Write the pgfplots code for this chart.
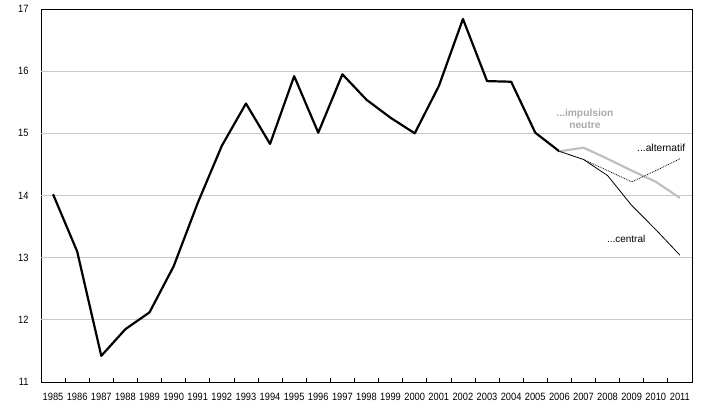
\documentclass[border=0pt]{standalone}
\usepackage{fontspec}
\setmainfont{Liberation Sans}
\newfontfamily\tickfont[FakeStretch=0.88]{Liberation Sans}
\usepackage{pgfplots}
\pgfplotsset{compat=1.18}
\definecolor{gridgray}{RGB}{200,200,200}
\definecolor{linegray}{RGB}{192,192,192}
\definecolor{textgray}{RGB}{170,170,170}
\begin{document}
\begin{tikzpicture}
\begin{axis}[
  name=ax,
  scale only axis,
  width=651bp, height=373bp,
  xmin=1984.5, xmax=2011.5,
  ymin=11, ymax=17,
  xtick={1985,...,2011},
  minor xtick={1985.5,1986.5,...,2010.5},
  ytick={11,...,17},
  extra y ticks={12,13,14,15,16},
  extra y tick labels={},
  extra y tick style={ymajorgrids=true, major grid style={gridgray, line width=0.8bp}, major tick length=0pt},
  major tick length=0pt,
  minor tick length=4bp,
  xtick pos=bottom,
  tick align=inside,
  tick style={black, line width=0.7bp},
  axis line style={line width=0.8bp},
  /pgf/number format/assume math mode=true,
  /pgf/number format/1000 sep={},
  tick label style={font=\tickfont\fontsize{10.6}{12}\selectfont},
  xticklabel style={yshift=-7.5bp},
  yticklabel style={xshift=-9bp},
  clip=false,
]
\addplot[black, line width=2.2bp, line join=round] coordinates {
(1985,14.02) (1986,13.10) (1987,11.42) (1988,11.85) (1989,12.12)
(1990,12.86) (1991,13.88) (1992,14.80) (1993,15.48) (1994,14.83)
(1995,15.92) (1996,15.01) (1997,15.95) (1998,15.54) (1999,15.25)
(2000,15.00) (2001,15.76) (2002,16.84) (2003,15.84) (2004,15.83)
(2005,15.01) (2006,14.71)};
\addplot[linegray, line width=2.2bp, line join=round] coordinates {
(2006,14.71) (2007,14.77) (2008,14.59) (2009,14.40) (2010,14.22) (2011,13.96)};
\addplot[black, line width=0.8bp, densely dotted] coordinates {
(2007,14.58) (2008,14.40) (2009,14.22) (2010,14.40) (2011,14.59)};
\addplot[black, line width=0.8bp, line join=round] coordinates {
(2006,14.71) (2007,14.58) (2008,14.32) (2009,13.84) (2010,13.45) (2011,13.04)};
\node[font=\bfseries\fontsize{10.3}{12.5}\selectfont, text=textgray, align=center, inner sep=0pt] at (axis cs:2007.06,15.23) {...impulsion\\neutre};
\node[font=\fontsize{10.3}{12}\selectfont, anchor=west, inner sep=0pt] at (axis cs:2009.22,14.76) {...alternatif};
\node[font=\fontsize{10}{12}\selectfont, anchor=west, inner sep=0pt] at (axis cs:2007.97,13.30) {...central};
\end{axis}
\path ([shift={(-41bp,-28bp)}]ax.south west) rectangle ([shift={(17bp,9bp)}]ax.north east);
\end{tikzpicture}
\end{document}
